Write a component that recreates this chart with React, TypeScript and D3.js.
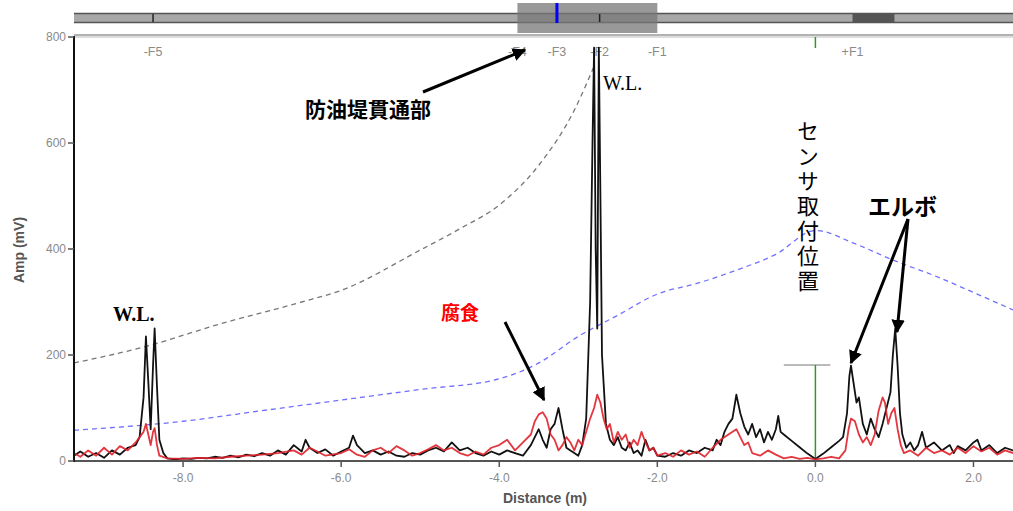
import React from 'react';
import * as d3 from 'd3';

// x: distance (m), y: amplitude (mV)
const blackTrace: [number, number][] = [
  [-9.38, 10], [-9.3, 18], [-9.2, 8], [-9.1, 15], [-9.0, 6], [-8.9, 20], [-8.8, 12], [-8.7, 25],
  [-8.6, 30], [-8.55, 45], [-8.5, 120], [-8.47, 235], [-8.44, 150], [-8.41, 60], [-8.38, 180],
  [-8.36, 250], [-8.33, 140], [-8.3, 40], [-8.25, 15], [-8.2, 5], [-8.1, 3], [-8.0, 5], [-7.9, 4],
  [-7.8, 6], [-7.7, 5], [-7.6, 8], [-7.5, 6], [-7.4, 10], [-7.3, 7], [-7.2, 12], [-7.1, 9],
  [-7.0, 15], [-6.9, 10], [-6.8, 20], [-6.7, 12], [-6.6, 30], [-6.5, 18], [-6.45, 40], [-6.4, 25],
  [-6.3, 15], [-6.2, 22], [-6.1, 10], [-6.0, 18], [-5.9, 25], [-5.85, 48], [-5.8, 30], [-5.7, 15],
  [-5.6, 20], [-5.5, 12], [-5.4, 18], [-5.3, 10], [-5.2, 8], [-5.1, 15], [-5.0, 12], [-4.9, 20],
  [-4.8, 25], [-4.7, 18], [-4.6, 35], [-4.5, 20], [-4.4, 25], [-4.3, 15], [-4.2, 10], [-4.1, 18],
  [-4.0, 12], [-3.9, 20], [-3.8, 15], [-3.7, 10], [-3.6, 30], [-3.5, 60], [-3.45, 40], [-3.4, 25],
  [-3.35, 60], [-3.3, 70], [-3.25, 100], [-3.2, 60], [-3.15, 25], [-3.1, 20], [-3.05, 15],
  [-3.0, 10], [-2.95, 30], [-2.9, 80], [-2.85, 300], [-2.82, 600], [-2.8, 780], [-2.78, 400],
  [-2.76, 250], [-2.74, 780], [-2.72, 500], [-2.7, 200], [-2.65, 70], [-2.6, 40], [-2.55, 30],
  [-2.5, 45], [-2.45, 25], [-2.4, 20], [-2.35, 35], [-2.3, 15], [-2.25, 20], [-2.2, 10],
  [-2.15, 40], [-2.1, 20], [-2.05, 25], [-2.0, 10], [-1.9, 8], [-1.8, 15], [-1.7, 10], [-1.6, 20],
  [-1.5, 15], [-1.4, 25], [-1.3, 20], [-1.25, 40], [-1.2, 30], [-1.15, 55], [-1.1, 70],
  [-1.05, 80], [-1.0, 125], [-0.95, 90], [-0.9, 65], [-0.85, 50], [-0.8, 70], [-0.75, 45],
  [-0.7, 60], [-0.65, 35], [-0.6, 55], [-0.55, 40], [-0.5, 60], [-0.47, 85], [-0.44, 55],
  [-0.4, 50], [-0.3, 38], [-0.2, 26], [-0.1, 14], [0, 4], [0.1, 14], [0.2, 26], [0.3, 38],
  [0.35, 45], [0.4, 90], [0.43, 160], [0.45, 180], [0.48, 150], [0.52, 110], [0.55, 120],
  [0.6, 70], [0.65, 50], [0.7, 80], [0.75, 60], [0.8, 45], [0.85, 70], [0.9, 100], [0.95, 130],
  [0.98, 200], [1.01, 250], [1.04, 180], [1.07, 90], [1.1, 50], [1.15, 25], [1.2, 35], [1.25, 20],
  [1.3, 30], [1.35, 55], [1.4, 25], [1.5, 35], [1.6, 20], [1.7, 30], [1.75, 15], [1.8, 28],
  [1.9, 20], [2.0, 35], [2.05, 40], [2.1, 20], [2.2, 30], [2.3, 15], [2.4, 25], [2.5, 20],
];

const redTrace: [number, number][] = [
  [-9.38, 15], [-9.3, 8], [-9.2, 20], [-9.1, 10], [-9.0, 25], [-8.9, 12], [-8.8, 28], [-8.7, 20],
  [-8.6, 35], [-8.55, 45], [-8.5, 55], [-8.47, 70], [-8.44, 50], [-8.41, 30], [-8.38, 55],
  [-8.36, 62], [-8.33, 30], [-8.3, 10], [-8.2, 5], [-8.0, 4], [-7.8, 6], [-7.6, 5], [-7.4, 8],
  [-7.2, 10], [-7.0, 12], [-6.8, 15], [-6.6, 20], [-6.5, 12], [-6.4, 25], [-6.3, 18], [-6.2, 10],
  [-6.0, 15], [-5.9, 22], [-5.8, 12], [-5.7, 8], [-5.6, 20], [-5.5, 25], [-5.4, 15], [-5.3, 28],
  [-5.2, 20], [-5.1, 10], [-5.0, 15], [-4.9, 22], [-4.8, 30], [-4.7, 20], [-4.6, 25], [-4.5, 15],
  [-4.4, 10], [-4.3, 18], [-4.2, 12], [-4.1, 25], [-4.0, 30], [-3.9, 40], [-3.8, 20], [-3.7, 35],
  [-3.6, 50], [-3.55, 75], [-3.5, 88], [-3.45, 92], [-3.4, 80], [-3.35, 50], [-3.3, 40],
  [-3.25, 20], [-3.2, 30], [-3.15, 45], [-3.1, 35], [-3.05, 20], [-3.0, 40], [-2.95, 30],
  [-2.9, 55], [-2.85, 80], [-2.8, 100], [-2.76, 125], [-2.72, 110], [-2.68, 80], [-2.64, 60],
  [-2.6, 70], [-2.55, 35], [-2.5, 55], [-2.45, 40], [-2.4, 50], [-2.35, 25], [-2.3, 40],
  [-2.25, 30], [-2.2, 55], [-2.15, 35], [-2.1, 20], [-2.05, 25], [-2.0, 10], [-1.9, 15],
  [-1.8, 8], [-1.7, 20], [-1.6, 12], [-1.5, 18], [-1.4, 8], [-1.3, 25], [-1.2, 40], [-1.1, 50],
  [-1.0, 60], [-0.95, 45], [-0.9, 30], [-0.85, 35], [-0.8, 15], [-0.7, 10], [-0.6, 20],
  [-0.5, 12], [-0.4, 5], [-0.3, 8], [-0.2, 4], [-0.1, 6], [0, 3], [0.1, 5], [0.2, 8], [0.3, 5],
  [0.38, 20], [0.42, 60], [0.45, 80], [0.5, 75], [0.55, 50], [0.6, 35], [0.65, 45], [0.7, 30],
  [0.75, 50], [0.8, 95], [0.85, 120], [0.88, 110], [0.92, 70], [0.96, 90], [1.0, 100],
  [1.04, 60], [1.08, 30], [1.12, 15], [1.2, 20], [1.3, 10], [1.4, 25], [1.5, 15], [1.6, 20],
  [1.7, 12], [1.8, 25], [1.9, 15], [2.0, 28], [2.1, 18], [2.2, 25], [2.3, 12], [2.4, 20],
  [2.5, 15],
];

// threshold curves (dashed)
const grayThreshold: [number, number][] = [
  [-9.38, 185], [-8.5, 215], [-7.5, 260], [-6.5, 300], [-6.0, 322], [-5.0, 398], [-4.5, 438],
  [-4.0, 483], [-3.5, 558], [-3.05, 662], [-2.8, 745],
];
const blueThreshold: [number, number][] = [
  [-9.38, 58], [-8.0, 75], [-7.0, 95], [-6.0, 115], [-5.0, 135], [-4.0, 155], [-3.5, 185],
  [-3.0, 235], [-2.5, 275], [-2.0, 315], [-1.5, 335], [-1.0, 360], [-0.5, 390], [0, 435],
  [0.5, 410], [1.0, 378], [1.5, 350], [2.0, 318], [2.5, 285],
];

const fMarkers = [
  { label: '-F5', d: -8.38 },
  { label: '-F4', d: -3.77 },
  { label: '-F3', d: -3.27 },
  { label: '-F2', d: -2.73 },
  { label: '-F1', d: -2.0 },
  { label: '+F1', d: 0.47 },
];

const xTicks = [-8, -6, -4, -2, 0, 2];
const yTicks = [0, 200, 400, 600, 800];
const sensorLabel = 'センサ取付位置';

const W = 1013, H = 511;

const App: React.FC = () => {
  const x = d3.scaleLinear().domain([-9.38, 2.5]).range([74, 1013]);
  const y = d3.scaleLinear().domain([0, 800]).range([461, 37]);

  const trace = d3.line<[number, number]>().x(d => x(d[0])).y(d => y(d[1]));
  const smooth = d3.line<[number, number]>().x(d => x(d[0])).y(d => y(d[1])).curve(d3.curveMonotoneX);

  const tickFont = { fontFamily: 'Arial, "Liberation Sans", sans-serif', fontSize: 12, fill: '#8a8a8a' };
  const jp = '"Noto Sans CJK JP", sans-serif';

  return (
    <div style={{ position: 'absolute', left: 0, top: 0 }}>
      <svg width={W} height={H} style={{ display: 'block', background: '#fff' }}>
        <defs>
          <marker id="ah" viewBox="0 0 10 10" refX="9" refY="5" markerWidth="4.5" markerHeight="4.5" orient="auto">
            <path d="M0,0 L10,5 L0,10 z" fill="#000" />
          </marker>
        </defs>

        {/* overview strip */}
        <rect x={x(-9.38)} y={13} width={W - x(-9.38)} height={10} fill="#a8a8a8" />
        <line x1={x(-9.38)} x2={W} y1={13.5} y2={13.5} stroke="#555" strokeWidth={1.5} />
        <line x1={x(-9.38)} x2={W} y1={22.5} y2={22.5} stroke="#555" strokeWidth={1.5} />
        <rect x={x(-3.77)} y={3} width={x(-2.0) - x(-3.77)} height={30} fill="#777" opacity={0.75} />
        <rect x={x(0.47)} y={14} width={x(1.0) - x(0.47)} height={8} fill="#555" />
        <line x1={x(-8.38)} x2={x(-8.38)} y1={14} y2={22} stroke="#222" strokeWidth={1.5} />
        <line x1={x(-2.73)} x2={x(-2.73)} y1={14} y2={22} stroke="#222" strokeWidth={1.5} />
        <rect x={x(-3.27) - 1.5} y={3} width={3} height={20} fill="#0000ff" />

        {/* plot frame */}
        <line x1={74} x2={W} y1={35} y2={35} stroke="#666" strokeWidth={1.2} />
        <line x1={74} x2={W} y1={37} y2={37} stroke="#bbb" strokeWidth={1} />

        {/* F markers */}
        {fMarkers.map(m => (
          <text key={m.label} x={x(m.d)} y={56} textAnchor="middle" {...tickFont} fontSize={12.5}>{m.label}</text>
        ))}
        <line x1={x(0)} x2={x(0)} y1={37} y2={48} stroke="#2a9a2a" strokeWidth={1.5} />

        {/* dashed threshold curves */}
        <path d={smooth(grayThreshold) || ''} fill="none" stroke="#777" strokeWidth={1.3} strokeDasharray="5,4" />
        <path d={smooth(blueThreshold) || ''} fill="none" stroke="#7070ff" strokeWidth={1.3} strokeDasharray="5,4" />

        {/* sensor position */}
        <line x1={x(-0.4)} x2={x(0.19)} y1={365} y2={365} stroke="#777" strokeWidth={1} />
        <line x1={x(0)} x2={x(0)} y1={365} y2={461} stroke="#2a9a2a" strokeWidth={1.5} />

        {/* traces */}
        <path d={trace(blackTrace) || ''} fill="none" stroke="#111" strokeWidth={1.8} strokeLinejoin="round" />
        <path d={trace(redTrace) || ''} fill="none" stroke="#e0202a" strokeWidth={1.8} strokeLinejoin="round" opacity={0.9} />

        {/* axes */}
        <line x1={74} x2={W} y1={461} y2={461} stroke="#555" strokeWidth={2} />
        <line x1={74} x2={74} y1={36} y2={462} stroke="#111" strokeWidth={2} />
        {yTicks.map(t => (
          <g key={t}>
            <line x1={68} x2={74} y1={y(t)} y2={y(t)} stroke="#555" strokeWidth={1.5} />
            <text x={66} y={y(t) + 4} textAnchor="end" {...tickFont}>{t}</text>
          </g>
        ))}
        {xTicks.map(t => (
          <g key={t}>
            <line x1={x(t)} x2={x(t)} y1={461} y2={467} stroke="#555" strokeWidth={1.5} />
            <text x={x(t)} y={482} textAnchor="middle" {...tickFont}>{t.toFixed(1)}</text>
          </g>
        ))}
        <text x={545} y={503} textAnchor="middle" fontFamily='Arial, "Liberation Sans", sans-serif'
              fontSize={14} fontWeight="bold" fill="#555">Distance (m)</text>
        <text transform="translate(24,250) rotate(-90)" textAnchor="middle"
              fontFamily='Arial, "Liberation Sans", sans-serif' fontSize={14} fontWeight="bold" fill="#555">Amp (mV)</text>

        {/* annotations */}
        <text x={305} y={117} fontFamily={jp} fontSize={21} fontWeight="bold" fill="#000">防油堤貫通部</text>
        <line x1={423} x2={525} y1={92} y2={50} stroke="#000" strokeWidth={3} markerEnd="url(#ah)" />

        <text x={113} y={321} fontFamily='"Liberation Serif", "DejaVu Serif", serif' fontSize={20} fontWeight="bold" fill="#000">W.L.</text>
        <text x={603} y={90} fontFamily='"Liberation Serif", "DejaVu Serif", serif' fontSize={20} fill="#000">W.L.</text>

        <text x={441} y={320} fontFamily={jp} fontSize={19} fontWeight="bold" fill="#ff0000">腐食</text>
        <line x1={505} x2={544} y1={322} y2={400} stroke="#000" strokeWidth={3} markerEnd="url(#ah)" />

        <text x={808} y={120} fontFamily={jp} fontSize={22} fill="#000"
              style={{ writingMode: 'vertical-rl', textOrientation: 'upright' }} letterSpacing={3}>{sensorLabel}</text>

        <text x={868} y={215} fontFamily={jp} fontSize={23} fontWeight="bold" fill="#000">エルボ</text>
        <line x1={908} x2={851} y1={219} y2={363} stroke="#000" strokeWidth={3} markerEnd="url(#ah)" />
        <line x1={908} x2={897} y1={219} y2={332} stroke="#000" strokeWidth={3} markerEnd="url(#ah)" />
      </svg>
    </div>
  );
};

export default App;
